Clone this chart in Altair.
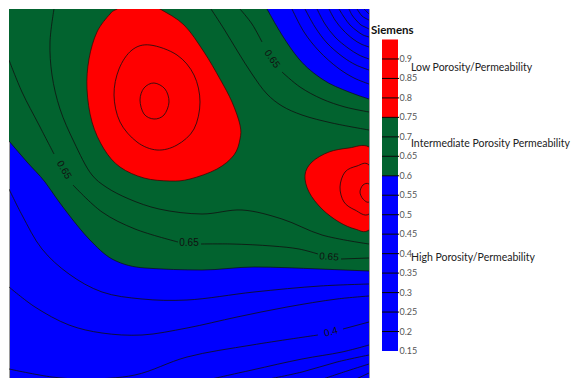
import altair as alt
import pandas as pd

RED = "#FF0000"
GREEN = "#02632F"
BLUE = "#0000FF"

# ---------------- contour geometry (plot units, y grows downward) -------------
# lower edge of the 0.60 zone (green above, blue below)
green_edge_x = [7, 25, 43, 55, 67, 87, 110, 143, 200, 252, 318, 367]
green_edge_y = [139, 160, 180, 197, 213, 237, 257, 266, 268, 265, 267, 269]
# upper-right blue corner (below 0.60)
blue_corner_x = [265, 280, 297, 320, 347, 367]
blue_corner_y = [7, 33, 57, 77, 90, 97]
# red zones (> 0.75)
red_west_x = [136, 158, 182, 202, 218, 230, 238, 238, 232, 215, 188, 168, 142, 118, 102, 90, 85, 87, 95, 108, 115]
red_west_y = [-4, 7, 23, 50, 77, 100, 123, 137, 153, 167, 177, 179, 176, 165, 147, 120, 87, 57, 30, 12, 7]
red_east_x = [367, 347, 327, 310, 303, 307, 320, 337, 353, 367, 385, 385]
red_east_y = [145, 146, 150, 160, 173, 190, 207, 220, 227, 228, 205, 168]

# closed contour rings inside the red zones
rings = {
    "w080": ([148, 175, 192, 198, 192, 175, 155, 135, 118, 112, 117, 130],
             [43, 53, 73, 100, 127, 143, 148, 140, 120, 93, 67, 48]),
    "w085": ([152, 163, 167, 162, 152, 142, 138, 142],
             [81, 87, 100, 113, 117, 112, 98, 86]),
    "e080": ([367, 355, 343, 338, 342, 353, 367, 380],
             [163, 164, 170, 185, 200, 208, 212, 188]),
    "e085": ([367, 361, 358, 361, 367, 372],
             [182, 183, 190, 197, 200, 191]),
}

# open contour lines (split where a label sits)
contours = {
    "c065_w1": ([7, 20, 37, 52], [58, 90, 123, 152]),
    "c065_w2": ([71, 100, 133, 176], [183, 210, 227, 240]),
    "c065_w3": ([199, 230, 270, 297, 316], [242, 242, 244, 247, 252]),
    "c065_w4": ([339, 367], [257, 256]),
    "c070_w": ([52, 48, 50, 58, 72, 90, 104, 127, 157, 200, 240, 280, 320, 367],
               [7, 40, 73, 107, 140, 173, 185, 197, 207, 212, 208, 217, 233, 242]),
    "c070_n": ([209, 222, 236, 250, 265, 280, 300, 330, 367],
               [7, 27, 50, 72, 92, 104, 113, 121, 128]),
    "c065_n1": ([238, 250, 260], [7, 22, 40]),
    "c065_n2": ([280, 298, 320, 343, 367], [70, 85, 97, 105, 110]),
    "c055_ne": ([290, 302, 317, 336, 352, 367], [7, 30, 49, 66, 76, 82]),
    "c050_ne": ([303, 313, 325, 341, 354, 367], [7, 25, 41, 55, 63, 68]),
    "c045_ne": ([315, 323, 333, 346, 357, 367], [7, 22, 35, 46, 53, 57]),
    "c040_ne": ([327, 333, 341, 351, 359, 367], [7, 18, 28, 37, 42, 45]),
    "c035_ne": ([337, 342, 348, 355, 361, 367], [7, 15, 23, 29, 33, 35]),
    "c030_ne": ([347, 350, 354, 359, 363, 367], [7, 13, 18, 23, 25, 27]),
    "c025_ne": ([355, 357, 360, 363, 367], [7, 10, 14, 16, 18]),
    "c020_ne": ([362, 364, 367], [7, 9, 12]),
    "c055_s": ([7, 20, 40, 67, 100, 140, 185, 252, 318, 367],
               [187, 213, 247, 272, 290, 297, 298, 290, 284, 282]),
    "c050_s": ([7, 33, 67, 100, 140, 185, 235, 285, 335, 367],
               [285, 305, 323, 331, 333, 326, 315, 305, 297, 294]),
    "c040_s1": ([7, 50, 83, 133, 185, 250, 316], [367, 375, 377, 373, 355, 343, 333]),
    "c040_s2": ([341, 367], [327, 320]),
    "c035_s": ([205, 250, 300, 340, 367], [378, 368, 357, 350, 343]),
    "c030_s": ([262, 300, 335, 367], [378, 370, 360, 353]),
    "c025_s": ([318, 345, 367], [378, 369, 362]),
    "c020_s": ([352, 367], [378, 371]),
}

label_text = ["0.65", "0.65", "0.65", "0.65", "0.4"]
label_x = [62, 187, 327, 270, 329]
label_y = [168, 241, 255, 57, 330]
label_angle = [60, 0, 5, 55, 345]

# ---------------- colour bar ----------------
levels = [0.15, 0.2, 0.25, 0.3, 0.35, 0.4, 0.45, 0.5, 0.55, 0.6, 0.65, 0.7, 0.75, 0.8, 0.85, 0.9, 0.95]
band_colors = [BLUE] * 9 + [GREEN] * 3 + [RED] * 4
tick_labels = ["0.15", "0.2", "0.25", "0.3", "0.35", "0.4", "0.45", "0.5", "0.55", "0.6",
               "0.65", "0.7", "0.75", "0.8", "0.85", "0.9"]
legend_title = "Siemens"
zone_text = ["Low Porosity/Permeability", "Intermediate Porosity Permeability", "High Porosity/Permeability"]
zone_level = [0.877, 0.682, 0.389]


def frame(dct):
    rows = []
    for name, (xs, ys) in dct.items():
        for i, (a, b) in enumerate(zip(xs, ys)):
            rows.append({"seg": name, "i": i, "x": a, "y": b})
    return pd.DataFrame(rows)


green_df = pd.DataFrame({"x": green_edge_x, "y": green_edge_y})
corner_df = pd.DataFrame({"x": blue_corner_x, "y": blue_corner_y})
red_df = frame({"west": (red_west_x, red_west_y), "east": (red_east_x, red_east_y)})
ring_df = frame(rings)
line_df = frame(contours)
lab_df = pd.DataFrame({"t": label_text, "x": label_x, "y": label_y, "a": label_angle})

XS = alt.Scale(domain=[7, 367], nice=False, zero=False)
YS = alt.Scale(domain=[7, 377], nice=False, zero=False, reverse=True)
X = alt.X("x:Q", scale=XS, axis=None)
Y = alt.Y("y:Q", scale=YS, axis=None)

green = alt.Chart(green_df).mark_area(color=GREEN, interpolate="monotone", clip=True).encode(
    x=X, y=Y, y2=alt.datum(-30))
corner = alt.Chart(corner_df).mark_area(color=BLUE, interpolate="monotone", clip=True).encode(
    x=X, y=Y, y2=alt.datum(-30))
green_line = alt.Chart(green_df).mark_line(color="#101010", strokeWidth=0.7, interpolate="monotone", clip=True).encode(x=X, y=Y)
corner_line = alt.Chart(corner_df).mark_line(color="#101010", strokeWidth=0.7, interpolate="monotone", clip=True).encode(x=X, y=Y)
red = alt.Chart(red_df).mark_line(filled=True, fill=RED, stroke="#3a0000", strokeWidth=0.7,
                                  interpolate="cardinal-closed", clip=True).encode(
    x=X, y=Y, detail="seg:N", order="i:Q")
ring = alt.Chart(ring_df).mark_line(color="#101010", strokeWidth=0.8, interpolate="cardinal-closed", clip=True).encode(
    x=X, y=Y, detail="seg:N", order="i:Q")
lines = alt.Chart(line_df).mark_line(color="#101010", strokeWidth=0.8, interpolate="catmull-rom", clip=True).encode(
    x=X, y=Y, detail="seg:N", order="i:Q")
labels = alt.Chart(lab_df).mark_text(font="Liberation Sans", fontSize=10, color="#111").encode(
    x=X, y=Y, text="t:N", angle=alt.Angle("a:Q", scale=None))

main = alt.layer(green, corner, green_line, corner_line, red, ring, lines, labels).properties(
    width=360, height=370, view=alt.ViewBackground(fill=BLUE, stroke="#9a9a9a", strokeWidth=1))

CXS = alt.Scale(domain=[0, 16], nice=False, zero=False)
CYS = alt.Scale(domain=[0.0781, 1.0283], nice=False, zero=False)


def cx(v):
    return alt.XDatum(v, type="quantitative", scale=CXS, axis=None)


bar_df = pd.DataFrame({"lo": levels[:-1], "hi": levels[1:], "c": band_colors})
tick_df = pd.DataFrame({"v": levels[1:-1]})
tl_df = pd.DataFrame({"v": levels[:-1], "t": tick_labels})
zone_df = pd.DataFrame({"t": zone_text, "v": zone_level})

bars = alt.Chart(bar_df).mark_rect().encode(
    x=cx(0), x2=alt.X2Datum(16),
    y=alt.Y("lo:Q", scale=CYS, axis=None), y2="hi:Q",
    color=alt.Color("c:N", scale=None))
ticks = alt.Chart(tick_df).mark_rule(color="black", strokeWidth=1).encode(
    x=cx(0), x2=alt.X2Datum(17), y=alt.Y("v:Q", scale=CYS, axis=None))
tls = alt.Chart(tl_df).mark_text(align="left", baseline="middle", font="Lato", fontSize=9, color="#555").encode(
    x=cx(17.5), y=alt.Y("v:Q", scale=CYS, axis=None), text="t:N")
zones = alt.Chart(zone_df).mark_text(align="left", baseline="middle", font="Lato", fontSize=10.5, color="#222").encode(
    x=cx(29), y=alt.Y("v:Q", scale=CYS, axis=None), text="t:N")
title = alt.Chart(pd.DataFrame({"t": [legend_title]})).mark_text(
    align="left", baseline="middle", font="Lato", fontSize=11.5, fontWeight="bold", color="#111").encode(
    x=cx(-11), y=alt.YDatum(0.972, type="quantitative", scale=CYS, axis=None), text="t:N")

cbar = alt.layer(bars, ticks, tls, zones, title).properties(
    width=16, height=370, view=alt.ViewBackground(stroke=None))

chart = alt.hconcat(main, cbar, spacing=13, bounds="flush").properties(padding=0).configure_view(stroke=None)

chart.save("out.html", embed_options={"renderer": "svg", "actions": False})
